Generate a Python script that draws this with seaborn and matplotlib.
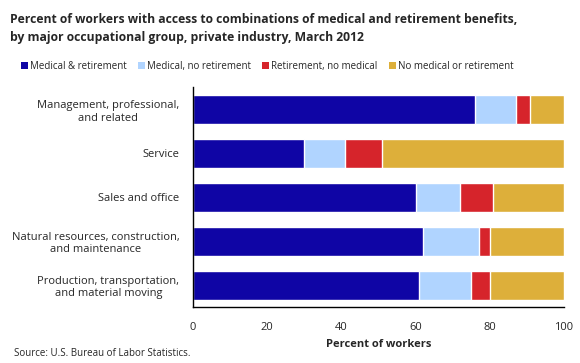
import matplotlib
matplotlib.use("Agg")
import matplotlib.pyplot as plt
import numpy as np
import pandas as pd
import seaborn as sns
from matplotlib.patches import Patch

# Données
groupes = [
    "Management, professional,\nand related",
    "Service",
    "Sales and office",
    "Natural resources, construction,\nand maintenance",
    "Production, transportation,\nand material moving",
]
series = [
    "Medical & retirement",
    "Medical, no retirement",
    "Retirement, no medical",
    "No medical or retirement",
]
medical_retraite = [76, 30, 60, 62, 61]
medical_sans_retraite = [11, 11, 12, 15, 14]
retraite_sans_medical = [4, 10, 9, 3, 5]
aucun = [9, 49, 19, 20, 20]
couleurs = ["#0F05A5", "#B0D4FF", "#D6242B", "#DDAF3A"]

sns.set_theme(style="white")
plt.rcParams["font.family"] = ["Open Sans", "DejaVu Sans"]

df = pd.DataFrame(
    {
        "groupe": groupes,
        series[0]: medical_retraite,
        series[1]: medical_sans_retraite,
        series[2]: retraite_sans_medical,
        series[3]: aucun,
    }
)
cumul = df[series].cumsum(axis=1)

fig = plt.figure(figsize=(5.8, 3.63), dpi=100)
ax = fig.add_axes([0.333, 0.154, 0.639, 0.605])

# barres empilées : on dessine les cumuls du plus grand au plus petit
for serie, couleur in reversed(list(zip(series, couleurs))):
    sns.barplot(
        x=cumul[serie], y=df["groupe"], orient="h",
        color=couleur, width=0.66, saturation=1, ax=ax,
    )

ax.set_xlim(0, 100)
ax.set_ylim(4.5, -0.5)
ax.set_xticks(np.arange(0, 101, 20))
ax.tick_params(axis="x", direction="out", length=4, width=1, color="black",
               labelsize=8, pad=7)
ax.tick_params(axis="y", length=0, labelsize=8, pad=10)
for lbl in ax.get_yticklabels():
    lbl.set_horizontalalignment("right")
    lbl.set_multialignment("center")
for side in ["top", "right"]:
    ax.spines[side].set_visible(False)
for side in ["left", "bottom"]:
    ax.spines[side].set_color("black")
    ax.spines[side].set_linewidth(1)
ax.set_ylabel("")
ax.set_xlabel("Percent of workers", fontsize=8, fontweight="bold", labelpad=4)

fig.text(0.017, 0.965,
         "Percent of workers with access to combinations of medical and retirement benefits,\n"
         "by major occupational group, private industry, March 2012",
         fontsize=8.7, fontweight="bold", va="top", ha="left", linespacing=1.55)

poignees = [Patch(facecolor=c, edgecolor="none") for c in couleurs]
fig.legend(poignees, series, loc="center left", bbox_to_anchor=(0.036, 0.817),
           ncol=4, frameon=False, fontsize=7, handlelength=0.7,
           handleheight=0.7, handletextpad=0.2, columnspacing=1.2,
           borderaxespad=0, borderpad=0)

fig.text(0.024, 0.012, "Source: U.S. Bureau of Labor Statistics.", fontsize=7,
         ha="left", va="bottom")

fig.savefig("out.png", dpi=100)
